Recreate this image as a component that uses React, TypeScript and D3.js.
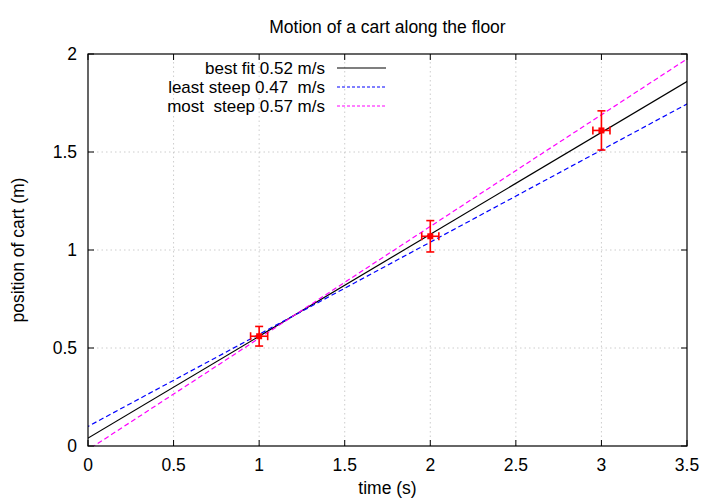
import * as d3 from "d3";
import { useEffect, useRef } from "react";

// measured data: time (s), position (m) and their uncertainties
const times = [1, 2, 3];
const positions = [0.56, 1.07, 1.61];
const timeErr = [0.05, 0.05, 0.05];
const posErr = [0.05, 0.08, 0.1];

// fitted lines: label, slope, intercept, colour, dashed?
const fitLabels = ["best fit 0.52 m/s", "least steep 0.47  m/s", "most  steep 0.57 m/s"];
const fitSlopes = [0.52, 0.47, 0.57];
const fitIntercepts = [0.04, 0.1, -0.02];
const fitColors = ["#000000", "#0000ff", "#ff00ff"];
const fitDashed = [false, true, true];

const xTicks = [0, 0.5, 1, 1.5, 2, 2.5, 3, 3.5];
const yTicks = [0, 0.5, 1, 1.5, 2];

const App = () => {
  const ref: any = useRef();

  useEffect(() => {
    const width = 720, height = 504;
    const margin = { top: 54, right: 33, bottom: 58, left: 88 };
    const font = "'Liberation Sans', Arial, sans-serif";
    const fs = 17.5;

    const svg = d3.select(ref.current);
    svg.selectAll("*").remove();

    const x = d3.scaleLinear().domain([0, 3.5]).range([margin.left, width - margin.right]);
    const y = d3.scaleLinear().domain([0, 2]).range([height - margin.bottom, margin.top]);
    const [x0, x1] = x.range();
    const [y0, y1] = y.range();

    svg.append("rect").attr("width", width).attr("height", height).attr("fill", "#fff");

    svg.append("clipPath").attr("id", "plot-clip")
      .append("rect")
      .attr("x", x0).attr("y", y1)
      .attr("width", x1 - x0).attr("height", y0 - y1);

    // grid
    const grid = svg.append("g").attr("stroke", "#c0c0c0").attr("stroke-width", 0.8).attr("stroke-dasharray", "1.5,3");
    xTicks.slice(1, -1).forEach(t => {
      grid.append("line").attr("x1", x(t)).attr("x2", x(t)).attr("y1", y0).attr("y2", y1);
    });
    yTicks.slice(1, -1).forEach(t => {
      grid.append("line").attr("x1", x0).attr("x2", x1).attr("y1", y(t)).attr("y2", y(t));
    });

    // ticks, mirrored on top and right
    const ticks = svg.append("g").attr("stroke", "#000").attr("stroke-width", 1);
    const tl = 6;
    xTicks.forEach(t => {
      ticks.append("line").attr("x1", x(t)).attr("x2", x(t)).attr("y1", y0).attr("y2", y0 - tl);
      ticks.append("line").attr("x1", x(t)).attr("x2", x(t)).attr("y1", y1).attr("y2", y1 + tl);
    });
    yTicks.forEach(t => {
      ticks.append("line").attr("x1", x0).attr("x2", x0 + tl).attr("y1", y(t)).attr("y2", y(t));
      ticks.append("line").attr("x1", x1).attr("x2", x1 - tl).attr("y1", y(t)).attr("y2", y(t));
    });

    // tick labels
    const fmt = d3.format("~g");
    svg.append("g").selectAll("text").data(xTicks).join("text")
      .attr("x", d => x(d)).attr("y", y0 + 25)
      .attr("text-anchor", "middle")
      .attr("font-family", font).attr("font-size", fs)
      .text(d => fmt(d));
    svg.append("g").selectAll("text").data(yTicks).join("text")
      .attr("x", x0 - 11).attr("y", d => y(d) + 6)
      .attr("text-anchor", "end")
      .attr("font-family", font).attr("font-size", fs)
      .text(d => fmt(d));

    // fitted lines
    const lines = svg.append("g").attr("clip-path", "url(#plot-clip)");
    const fitLine = d3.line<[number, number]>().x(p => x(p[0])).y(p => y(p[1]));
    fitSlopes.forEach((m, i) => {
      const b = fitIntercepts[i];
      const pts: [number, number][] = [[-0.1, b - 0.1 * m], [3.6, b + 3.6 * m]];
      lines.append("path")
        .attr("d", fitLine(pts))
        .attr("fill", "none")
        .attr("stroke", fitColors[i])
        .attr("stroke-width", 1.2)
        .attr("stroke-dasharray", fitDashed[i] ? "5,3" : null);
    });

    // error bars
    const eb = svg.append("g").attr("stroke", "#ff0000").attr("stroke-width", 1.6).attr("fill", "none");
    const cap = 4;
    times.forEach((t, i) => {
      const cx = x(t), cy = y(positions[i]);
      const ya = y(positions[i] - posErr[i]), yb = y(positions[i] + posErr[i]);
      const xa = x(t - timeErr[i]), xb = x(t + timeErr[i]);
      eb.append("line").attr("x1", cx).attr("x2", cx).attr("y1", ya).attr("y2", yb);
      eb.append("line").attr("x1", cx - cap).attr("x2", cx + cap).attr("y1", ya).attr("y2", ya);
      eb.append("line").attr("x1", cx - cap).attr("x2", cx + cap).attr("y1", yb).attr("y2", yb);
      eb.append("line").attr("x1", xa).attr("x2", xb).attr("y1", cy).attr("y2", cy);
      eb.append("line").attr("x1", xa).attr("x2", xa).attr("y1", cy - cap).attr("y2", cy + cap);
      eb.append("line").attr("x1", xb).attr("x2", xb).attr("y1", cy - cap).attr("y2", cy + cap);
      svg.append("rect")
        .attr("x", cx - 3).attr("y", cy - 3).attr("width", 6).attr("height", 6)
        .attr("fill", "#ff0000");
    });

    // frame
    svg.append("rect")
      .attr("x", x0).attr("y", y1).attr("width", x1 - x0).attr("height", y0 - y1)
      .attr("fill", "none").attr("stroke", "#000").attr("stroke-width", 1.2);

    // legend
    const legend = svg.append("g");
    fitLabels.forEach((lab, i) => {
      const ly = 68 + i * 19;
      legend.append("text")
        .attr("x", 325).attr("y", ly + 6)
        .attr("text-anchor", "end")
        .attr("font-family", font).attr("font-size", 17)
        .style("white-space", "pre")
        .attr("xml:space", "preserve")
        .text(lab);
      legend.append("line")
        .attr("x1", 337).attr("x2", 386).attr("y1", ly).attr("y2", ly)
        .attr("stroke", fitColors[i]).attr("stroke-width", 1.2)
        .attr("stroke-dasharray", fitDashed[i] ? "3,2" : null);
    });

    // titles
    svg.append("text")
      .attr("x", (x0 + x1) / 2).attr("y", 33)
      .attr("text-anchor", "middle")
      .attr("font-family", font).attr("font-size", fs)
      .text("Motion of a cart along the floor");
    svg.append("text")
      .attr("x", (x0 + x1) / 2).attr("y", 494)
      .attr("text-anchor", "middle")
      .attr("font-family", font).attr("font-size", fs)
      .text("time (s)");
    svg.append("text")
      .attr("transform", `translate(24,${(y0 + y1) / 2}) rotate(-90)`)
      .attr("text-anchor", "middle")
      .attr("font-family", font).attr("font-size", fs)
      .text("position of cart (m)");
  }, []);

  return (
    <div style={{ position: "absolute", left: 0, top: 0 }}>
      <svg ref={ref} width={720} height={504} style={{ display: "block" }} />
    </div>
  );
};

export default App;
